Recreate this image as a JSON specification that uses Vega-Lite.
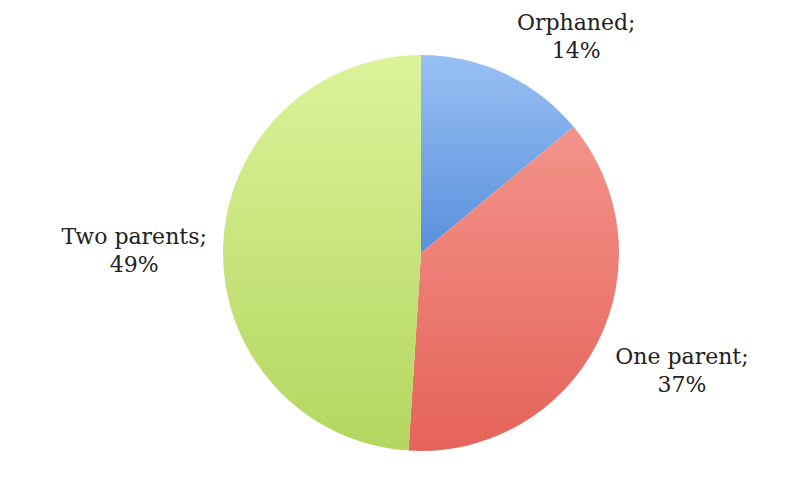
{
  "$schema": "https://vega.github.io/schema/vega-lite/v6.json",
  "autosize": "none",
  "padding": 0,
  "width": 842,
  "height": 506,
  "background": "white",
  "view": {"stroke": null},
  "data": {"values": [
    {"category": "Orphaned", "value": 14, "label": "Orphaned;\n14%"},
    {"category": "One parent", "value": 37, "label": "One parent;\n37%"},
    {"category": "Two parents", "value": 49, "label": "Two parents;\n49%"}
  ]},
  "transform": [
    {"window": [{"op": "row_number", "as": "idx"}]},
    {"stack": "value", "groupby": [], "sort": [{"field": "idx", "order": "ascending"}], "as": ["v0", "v1"]},
    {"calculate": "(datum.v0 + datum.v1) / 2", "as": "mid"}
  ],
  "layer": [
    {
      "transform": [{"filter": "datum.category === 'Orphaned'"}],
      "mark": {"type": "arc", "outerRadius": 198, "stroke": null,
        "color": {"gradient": "linear", "x1": 0, "y1": 0, "x2": 0, "y2": 1,
          "stops": [{"offset": 0, "color": "#98c0f4"}, {"offset": 1, "color": "#5890db"}]}},
      "encoding": {
        "theta": {"field": "v0", "type": "quantitative", "scale": {"domain": [0, 100]}},
        "theta2": {"field": "v1"}
      }
    },
    {
      "transform": [{"filter": "datum.category === 'One parent'"}],
      "mark": {"type": "arc", "outerRadius": 198, "stroke": null,
        "color": {"gradient": "linear", "x1": 0, "y1": 0, "x2": 0, "y2": 1,
          "stops": [{"offset": 0, "color": "#f3938a"}, {"offset": 1, "color": "#e5635a"}]}},
      "encoding": {
        "theta": {"field": "v0", "type": "quantitative", "scale": {"domain": [0, 100]}},
        "theta2": {"field": "v1"}
      }
    },
    {
      "transform": [{"filter": "datum.category === 'Two parents'"}],
      "mark": {"type": "arc", "outerRadius": 198, "stroke": null,
        "color": {"gradient": "linear", "x1": 0, "y1": 0, "x2": 0, "y2": 1,
          "stops": [{"offset": 0, "color": "#dcf39a"}, {"offset": 1, "color": "#b3d65f"}]}},
      "encoding": {
        "theta": {"field": "v0", "type": "quantitative", "scale": {"domain": [0, 100]}},
        "theta2": {"field": "v1"}
      }
    },
    {
      "transform": [{"filter": "datum.category === 'Orphaned'"}],
      "mark": {"type": "text", "radius": 240, "dx": 53, "dy": -13, "font": "DejaVu Serif", "fontSize": 22, "lineBreak": "\n", "lineHeight": 28, "align": "center", "baseline": "middle", "color": "#222222"},
      "encoding": {
        "theta": {"field": "mid", "type": "quantitative", "scale": {"domain": [0, 100]}},
        "text": {"field": "label"}
      }
    },
    {
      "transform": [{"filter": "datum.category === 'One parent'"}],
      "mark": {"type": "text", "radius": 285, "dx": 7, "dy": -25, "font": "DejaVu Serif", "fontSize": 22, "lineBreak": "\n", "lineHeight": 28, "align": "center", "baseline": "middle", "color": "#222222"},
      "encoding": {
        "theta": {"field": "mid", "type": "quantitative", "scale": {"domain": [0, 100]}},
        "text": {"field": "label"}
      }
    },
    {
      "transform": [{"filter": "datum.category === 'Two parents'"}],
      "mark": {"type": "text", "radius": 290, "dx": 3, "dy": -7, "font": "DejaVu Serif", "fontSize": 22, "lineBreak": "\n", "lineHeight": 28, "align": "center", "baseline": "middle", "color": "#222222"},
      "encoding": {
        "theta": {"field": "mid", "type": "quantitative", "scale": {"domain": [0, 100]}},
        "text": {"field": "label"}
      }
    }
  ]
}
